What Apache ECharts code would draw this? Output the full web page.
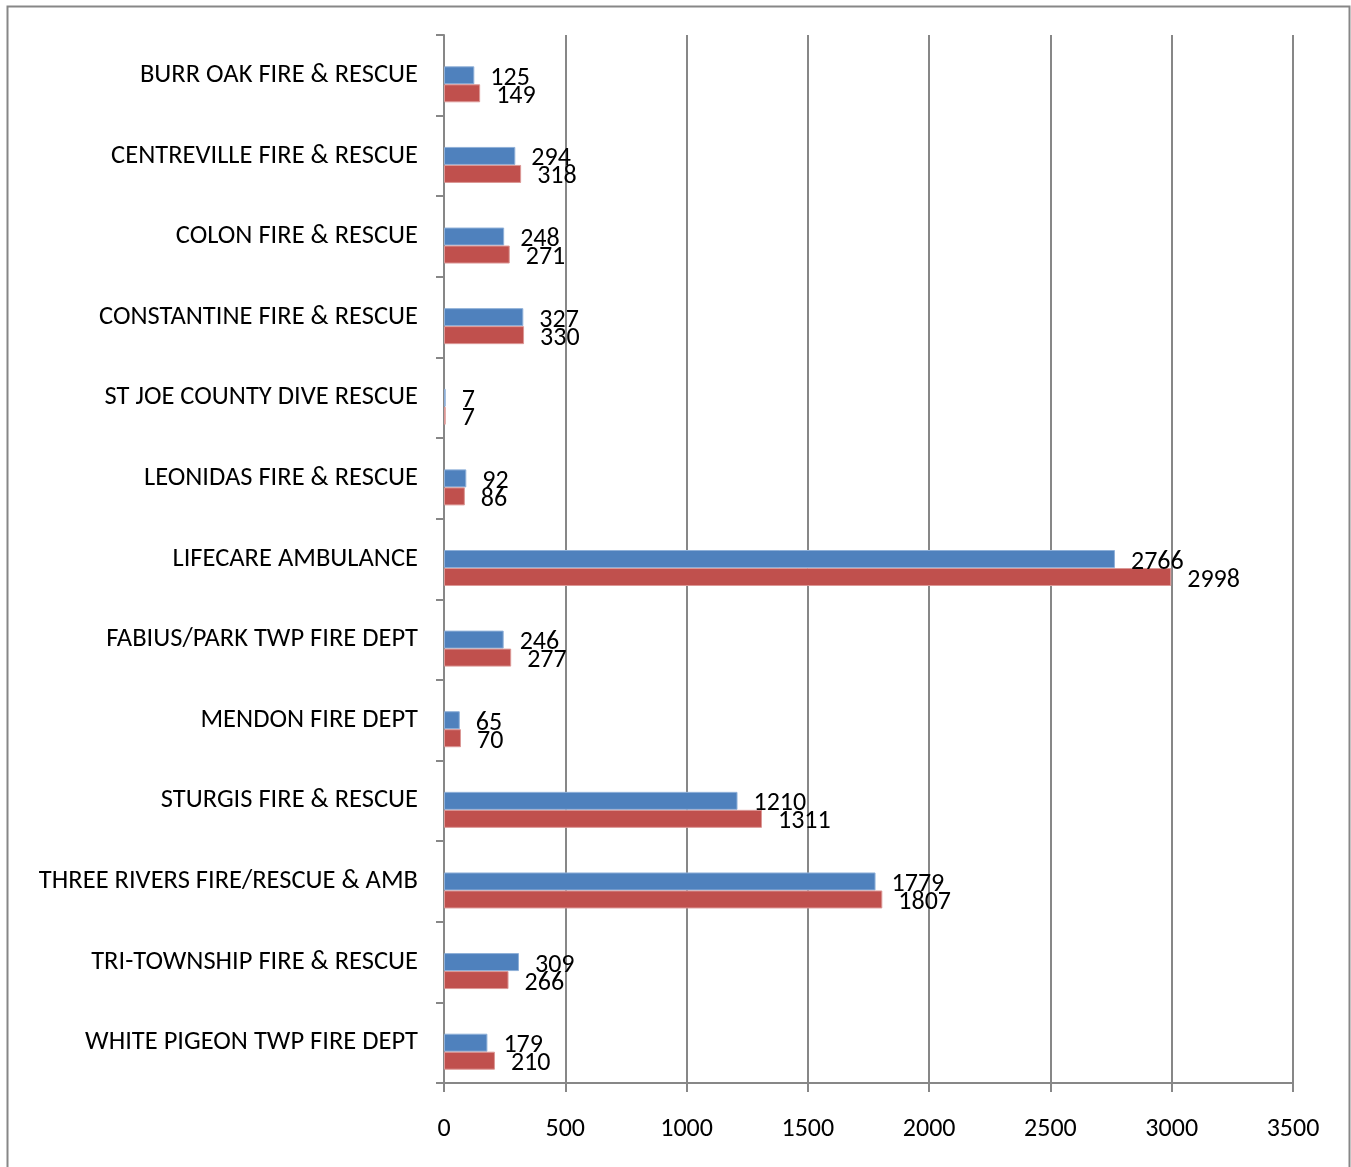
<!DOCTYPE html>
<html><head><meta charset="utf-8">
<script src="https://cdn.jsdelivr.net/npm/echarts@6/dist/echarts.min.js"></script>
<style>html,body{margin:0;padding:0;background:#fff}#c{width:1351px;height:1167px}</style>
</head><body><div id="c"></div>
<script>
const categories = ["BURR OAK FIRE & RESCUE","CENTREVILLE FIRE & RESCUE","COLON FIRE & RESCUE","CONSTANTINE FIRE & RESCUE","ST JOE COUNTY DIVE RESCUE","LEONIDAS FIRE & RESCUE","LIFECARE AMBULANCE","FABIUS/PARK TWP FIRE DEPT","MENDON FIRE DEPT","STURGIS FIRE & RESCUE","THREE RIVERS FIRE/RESCUE & AMB","TRI-TOWNSHIP FIRE & RESCUE","WHITE PIGEON TWP FIRE DEPT"];
const seriesA = [125,294,248,327,7,92,2766,246,65,1210,1779,309,179];
const seriesB = [149,318,271,330,7,86,2998,277,70,1311,1807,266,210];
const seriesEmpty = [];
const xTicks = [0,500,1000,1500,2000,2500,3000,3500];

const FONT = "Carlito";
const chart = echarts.init(document.getElementById('c'), null, {renderer:'canvas'});
const lbl = {show:true, position:'right', distance:16, color:'#000', fontSize:26, fontFamily:FONT, offset:[0,3]};
chart.setOption({
  animation:false,
  graphic:[{type:'rect', shape:{x:7.5,y:6.5,width:1342,height:1170}, style:{fill:null, stroke:'#878787', lineWidth:2}}],
  grid:{left:444, right:58, top:35, bottom:84, containLabel:false},
  xAxis:{type:'value', min:0, max:3500, interval:500,
    axisLine:{show:true, lineStyle:{color:'#878787', width:2}},
    axisTick:{show:true, length:9, lineStyle:{color:'#878787', width:2}},
    axisLabel:{margin:33, fontSize:26, color:'#000', fontFamily:FONT, formatter:v=>xTicks.includes(v)?String(v):''},
    splitLine:{show:true, lineStyle:{color:'#878787', width:2}}},
  yAxis:{type:'category', data:categories, inverse:true,
    axisLine:{show:true, lineStyle:{color:'#878787', width:2}},
    axisTick:{show:true, length:8, lineStyle:{color:'#878787', width:2}},
    axisLabel:{margin:26, fontSize:26.5, color:'#000', fontFamily:FONT, padding:[4,0,0,0]}},
  series:[
    {type:'bar', data:seriesEmpty, barWidth:18, barGap:'0%', silent:true},
    {type:'bar', data:seriesA, barWidth:18, barGap:'0%', itemStyle:{color:'#4F81BD', borderColor:'#8FB0D8', borderWidth:1}, label:lbl},
    {type:'bar', data:seriesB, barWidth:18, barGap:'0%', itemStyle:{color:'#C0504D', borderColor:'#DC9896', borderWidth:1}, label:lbl}
  ]
});
</script></body></html>
